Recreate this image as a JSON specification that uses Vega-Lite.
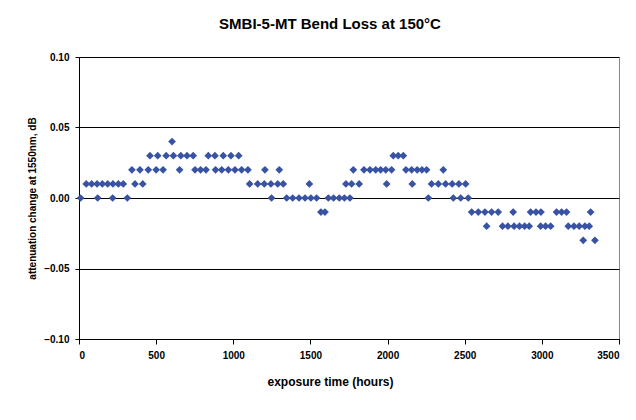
{
  "$schema": "https://vega.github.io/schema/vega-lite/v6.json",
  "width": 540,
  "height": 282,
  "autosize": {"type": "none"},
  "padding": {"left": 79, "top": 57, "right": 17, "bottom": 81},
  "background": "white",
  "title": {"text": "SMBI-5-MT Bend Loss at 150°C", "font": "Liberation Sans", "fontSize": 15, "fontWeight": "bold", "color": "black", "frame": "group", "anchor": "middle", "dx": -19, "offset": 20},
  "data": {"values": [
    {"t": 603, "a": 0.04},
    {"t": 460, "a": 0.03}, {"t": 510, "a": 0.03}, {"t": 565, "a": 0.03}, {"t": 612, "a": 0.03}, {"t": 660, "a": 0.03}, {"t": 700, "a": 0.03}, {"t": 740, "a": 0.03}, {"t": 838, "a": 0.03}, {"t": 881, "a": 0.03}, {"t": 935, "a": 0.03}, {"t": 985, "a": 0.03}, {"t": 1035, "a": 0.03}, {"t": 2037, "a": 0.03}, {"t": 2069, "a": 0.03}, {"t": 2102, "a": 0.03},
    {"t": 343, "a": 0.02}, {"t": 395, "a": 0.02}, {"t": 449, "a": 0.02}, {"t": 500, "a": 0.02}, {"t": 545, "a": 0.02}, {"t": 652, "a": 0.02}, {"t": 752, "a": 0.02}, {"t": 788, "a": 0.02}, {"t": 823, "a": 0.02}, {"t": 885, "a": 0.02}, {"t": 925, "a": 0.02}, {"t": 968, "a": 0.02}, {"t": 1011, "a": 0.02}, {"t": 1054, "a": 0.02}, {"t": 1095, "a": 0.02}, {"t": 1205, "a": 0.02}, {"t": 1298, "a": 0.02}, {"t": 1778, "a": 0.02}, {"t": 1847, "a": 0.02}, {"t": 1886, "a": 0.02}, {"t": 1923, "a": 0.02}, {"t": 1955, "a": 0.02}, {"t": 1988, "a": 0.02}, {"t": 2026, "a": 0.02}, {"t": 2119, "a": 0.02}, {"t": 2156, "a": 0.02}, {"t": 2192, "a": 0.02}, {"t": 2223, "a": 0.02}, {"t": 2253, "a": 0.02}, {"t": 2361, "a": 0.02},
    {"t": 47, "a": 0.01}, {"t": 82, "a": 0.01}, {"t": 117, "a": 0.01}, {"t": 151, "a": 0.01}, {"t": 186, "a": 0.01}, {"t": 220, "a": 0.01}, {"t": 255, "a": 0.01}, {"t": 287, "a": 0.01}, {"t": 363, "a": 0.01}, {"t": 413, "a": 0.01}, {"t": 1106, "a": 0.01}, {"t": 1158, "a": 0.01}, {"t": 1201, "a": 0.01}, {"t": 1244, "a": 0.01}, {"t": 1288, "a": 0.01}, {"t": 1324, "a": 0.01}, {"t": 1493, "a": 0.01}, {"t": 1730, "a": 0.01}, {"t": 1767, "a": 0.01}, {"t": 1816, "a": 0.01}, {"t": 1994, "a": 0.01}, {"t": 2160, "a": 0.01}, {"t": 2285, "a": 0.01}, {"t": 2329, "a": 0.01}, {"t": 2376, "a": 0.01}, {"t": 2419, "a": 0.01}, {"t": 2462, "a": 0.01}, {"t": 2506, "a": 0.01},
    {"t": 10, "a": 0}, {"t": 121, "a": 0}, {"t": 218, "a": 0}, {"t": 313, "a": 0}, {"t": 1248, "a": 0}, {"t": 1346, "a": 0}, {"t": 1385, "a": 0}, {"t": 1426, "a": 0}, {"t": 1465, "a": 0}, {"t": 1503, "a": 0}, {"t": 1540, "a": 0}, {"t": 1616, "a": 0}, {"t": 1650, "a": 0}, {"t": 1687, "a": 0}, {"t": 1720, "a": 0}, {"t": 1756, "a": 0}, {"t": 2264, "a": 0}, {"t": 2426, "a": 0}, {"t": 2474, "a": 0}, {"t": 2523, "a": 0},
    {"t": 1568, "a": -0.01}, {"t": 1594, "a": -0.01}, {"t": 2545, "a": -0.01}, {"t": 2588, "a": -0.01}, {"t": 2631, "a": -0.01}, {"t": 2674, "a": -0.01}, {"t": 2717, "a": -0.01}, {"t": 2814, "a": -0.01}, {"t": 2927, "a": -0.01}, {"t": 2962, "a": -0.01}, {"t": 2994, "a": -0.01}, {"t": 3095, "a": -0.01}, {"t": 3128, "a": -0.01}, {"t": 3160, "a": -0.01}, {"t": 3316, "a": -0.01},
    {"t": 2642, "a": -0.02}, {"t": 2745, "a": -0.02}, {"t": 2780, "a": -0.02}, {"t": 2820, "a": -0.02}, {"t": 2855, "a": -0.02}, {"t": 2888, "a": -0.02}, {"t": 2918, "a": -0.02}, {"t": 2992, "a": -0.02}, {"t": 3024, "a": -0.02}, {"t": 3057, "a": -0.02}, {"t": 3171, "a": -0.02}, {"t": 3208, "a": -0.02}, {"t": 3242, "a": -0.02}, {"t": 3279, "a": -0.02}, {"t": 3307, "a": -0.02},
    {"t": 3268, "a": -0.03}, {"t": 3344, "a": -0.03}
  ]},
  "mark": {"type": "point", "shape": "diamond", "filled": true, "size": 60, "color": "#3953A4", "opacity": 1},
  "encoding": {
    "x": {"field": "t", "type": "quantitative", "scale": {"domain": [0, 3500], "nice": false, "zero": false},
      "axis": {"values": [0, 500, 1000, 1500, 2000, 2500, 3000, 3500], "format": "d", "title": "exposure time (hours)", "grid": false, "tickSize": 5, "labelPadding": 6, "titleX": 251, "titleY": 42, "titleBaseline": "middle", "titleFontSize": 12}},
    "y": {"field": "a", "type": "quantitative", "scale": {"domain": [-0.1, 0.1], "nice": false, "zero": false},
      "axis": {"values": [-0.1, -0.05, 0, 0.05, 0.1], "format": ".2f", "title": "attenuation change at 1550nm, dB", "grid": true, "gridColor": "black", "gridOpacity": 1, "gridWidth": 1, "tickSize": 4, "labelPadding": 6, "titleX": -47, "titleY": 141, "titleBaseline": "middle"}}
  },
  "config": {
    "view": {"stroke": "#888888", "strokeWidth": 1},
    "axis": {"domainColor": "black", "domainWidth": 1, "tickColor": "black", "labelFont": "Liberation Sans", "labelFontWeight": "bold", "labelFontSize": 10, "labelColor": "black", "titleFont": "Liberation Sans", "titleFontWeight": "bold", "titleFontSize": 10, "titleColor": "black"}
  }
}
